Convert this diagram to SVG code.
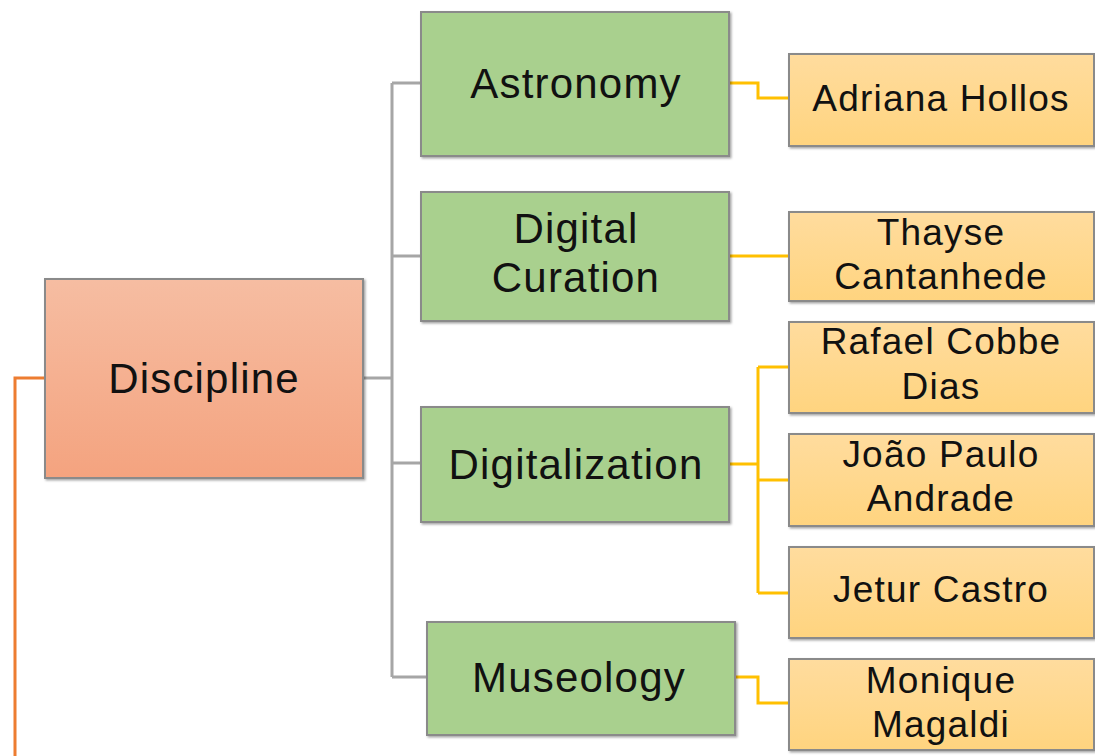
<svg xmlns="http://www.w3.org/2000/svg" width="1095" height="756" viewBox="0 0 1095 756">
<defs>
<linearGradient id="gRoot" x1="0" y1="0" x2="0" y2="1"><stop offset="0" stop-color="#F6BDA2"/><stop offset="1" stop-color="#F4A37F"/></linearGradient>
<linearGradient id="gLeaf" x1="0" y1="0" x2="0" y2="1"><stop offset="0" stop-color="#FFDC9E"/><stop offset="1" stop-color="#FFD47F"/></linearGradient>
<filter id="sh" x="-5%" y="-5%" width="115%" height="115%"><feDropShadow dx="1.5" dy="1.5" stdDeviation="1" flood-color="#000" flood-opacity="0.35"/></filter>
</defs>
<style>
.box{stroke:#8A8A8A;stroke-width:2;filter:url(#sh)}
.root{fill:url(#gRoot)}
.mid{fill:#A9D08E}
.leaf{fill:url(#gLeaf)}
text{font-family:"Liberation Sans",Arial,sans-serif;fill:#111;text-anchor:middle;letter-spacing:1.2px}
.t1{font-size:42px}
.t2{font-size:37px}
.gray{stroke:#A6A6A6;stroke-width:3;fill:none}
.yel{stroke:#FFC000;stroke-width:3;fill:none}
.org{stroke:#ED7D31;stroke-width:3;fill:none}
</style>
<g id="connectors">
<path class="org" d="M45,378 H15 V756"/>
<path class="gray" d="M363,378 H392 M392,83 V677 M392,83 H421 M392,256 H421 M392,463 H421 M392,677 H427"/>
<path class="yel" d="M729,83 H758 V98 H789"/>
<path class="yel" d="M729,256 H789"/>
<path class="yel" d="M729,464 H758 M758,367 V593 M758,367 H789 M758,480 H789 M758,593 H789"/>
<path class="yel" d="M735,677 H758 V703 H789"/>
</g>
<g id="discipline"><rect class="box root" x="45" y="279" width="318" height="199"/><text class="t1" x="204" y="393">Discipline</text></g>
<g id="astronomy"><rect class="box mid" x="421" y="12" width="308" height="144"/><text class="t1" x="576" y="98">Astronomy</text></g>
<g id="digital-curation"><rect class="box mid" x="421" y="192" width="308" height="129"/><text class="t1" x="576" y="243">Digital</text><text class="t1" x="576" y="292">Curation</text></g>
<g id="digitalization"><rect class="box mid" x="421" y="407" width="308" height="115"/><text class="t1" x="576" y="479">Digitalization</text></g>
<g id="museology"><rect class="box mid" x="427" y="622" width="308" height="113"/><text class="t1" x="579" y="692">Museology</text></g>
<g id="adriana"><rect class="box leaf" x="789" y="54" width="305" height="92"/><text class="t2" x="941" y="111">Adriana Hollos</text></g>
<g id="thayse"><rect class="box leaf" x="789" y="212" width="305" height="89"/><text class="t2" x="941" y="245">Thayse</text><text class="t2" x="941" y="289">Cantanhede</text></g>
<g id="rafael"><rect class="box leaf" x="789" y="322" width="305" height="91"/><text class="t2" x="941" y="354">Rafael Cobbe</text><text class="t2" x="941" y="399">Dias</text></g>
<g id="joao"><rect class="box leaf" x="789" y="434" width="305" height="92"/><text class="t2" x="941" y="467">João Paulo</text><text class="t2" x="941" y="511">Andrade</text></g>
<g id="jetur"><rect class="box leaf" x="789" y="547" width="305" height="91"/><text class="t2" x="941" y="602">Jetur Castro</text></g>
<g id="monique"><rect class="box leaf" x="789" y="659" width="305" height="91"/><text class="t2" x="941" y="693">Monique</text><text class="t2" x="941" y="737">Magaldi</text></g>
</svg>
